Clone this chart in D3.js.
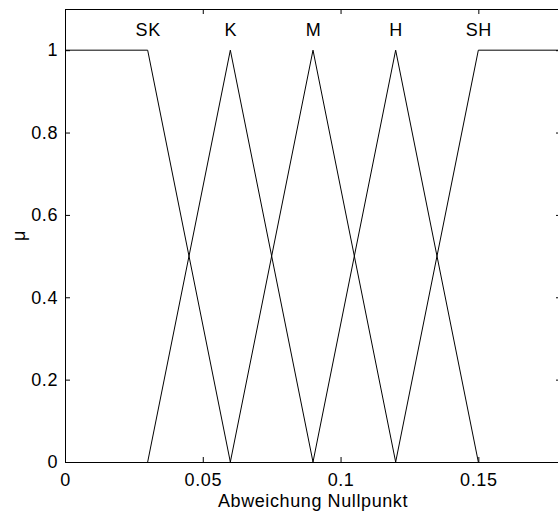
<!DOCTYPE html>
<html>
<head>
<meta charset="utf-8">
<script src="https://cdn.jsdelivr.net/npm/d3@7"></script>
<style>
  body { margin: 0; background: #fff; }
  svg { display: block; font-family: "Liberation Sans", Arial, Helvetica, sans-serif; }
  text { letter-spacing: 0.6px; }
</style>
</head>
<body>
<svg id="chart"></svg>
<script>
// Zugehoerigkeitsfunktionen (Trapez: a, b, c, d)
const sets = ["SK", "K", "M", "H", "SH"];
const setA = [0, 0.03, 0.06, 0.09, 0.12];
const setB = [0, 0.06, 0.09, 0.12, 0.15];
const setC = [0.03, 0.06, 0.09, 0.12, 0.18];
const setD = [0.06, 0.09, 0.12, 0.15, 0.18];
const labelX = [0.03, 0.06, 0.09, 0.12, 0.15];
const xTicks = [0, 0.05, 0.1, 0.15];
const yTicks = [0, 0.2, 0.4, 0.6, 0.8, 1];

const width = 558;
const height = 516;
const margin = { top: 9, right: -3, bottom: 54, left: 65 };
const fontSize = 18;

const x = d3
  .scaleLinear()
  .domain([0, 0.18])
  .range([margin.left, width - margin.right]);
const y = d3
  .scaleLinear()
  .domain([0, 1.1])
  .range([height - margin.bottom, margin.top]);

const svg = d3
  .select("#chart")
  .attr("width", width)
  .attr("height", height)
  .attr("viewBox", [0, 0, width, height]);

// kurven
const line = d3
  .line()
  .x((d) => x(d[0]))
  .y((d) => y(d[1]));

const curves = sets.map((s, i) => {
  const pts = [];
  pts.push([setA[i], setA[i] === setB[i] ? 1 : 0]);
  pts.push([setB[i], 1]);
  pts.push([setC[i], 1]);
  pts.push([setD[i], setC[i] === setD[i] ? 1 : 0]);
  return pts;
});

svg
  .append("g")
  .attr("fill", "none")
  .attr("stroke", "black")
  .attr("stroke-width", 1)
  .selectAll("path")
  .data(curves)
  .join("path")
  .attr("d", line);

svg
  .append("g")
  .selectAll("text")
  .data(sets)
  .join("text")
  .attr("x", (d, i) => x(labelX[i]) + 0.5)
  .attr("y", y(1.05))
  .attr("dy", "0.35em")
  .attr("text-anchor", "middle")
  .attr("font-size", fontSize)
  .text((d) => d);

// achsen (innen liegende ticks, wie matlab)
const tick = 5;
const xAxis = (g) =>
  g
    .attr("transform", `translate(0,${y(0)})`)
    .call(d3.axisBottom(x).tickValues(xTicks).tickFormat(d3.format("")).tickSizeInner(-tick).tickSizeOuter(0).tickPadding(11));
const xAxisTop = (g) =>
  g
    .attr("transform", `translate(0,${y(1.1)})`)
    .call(d3.axisTop(x).tickValues(xTicks).tickFormat("").tickSizeInner(-tick).tickSizeOuter(0));
const yAxis = (g) =>
  g
    .attr("transform", `translate(${x(0)},0)`)
    .call(d3.axisLeft(y).tickValues(yTicks).tickFormat(d3.format("")).tickSizeInner(-tick).tickSizeOuter(0).tickPadding(7));
const yAxisRight = (g) =>
  g
    .attr("transform", `translate(${x(0.18)},0)`)
    .call(d3.axisRight(y).tickValues(yTicks).tickFormat("").tickSizeInner(-tick).tickSizeOuter(0));

[xAxis, xAxisTop, yAxis, yAxisRight].forEach((ax) => {
  svg
    .append("g")
    .call(ax)
    .call((g) => g.attr("font-family", null).attr("font-size", fontSize))
    .call((g) => g.selectAll("line,path").attr("stroke", "black"))
    .call((g) => g.selectAll("text").attr("fill", "black"));
});

svg
  .append("text")
  .attr("x", (x(0) + x(0.18)) / 2)
  .attr("y", 507)
  .attr("text-anchor", "middle")
  .attr("font-size", fontSize)
  .text("Abweichung Nullpunkt");

svg
  .append("text")
  .attr("transform", `translate(25,${(y(0) + y(1.1)) / 2}) rotate(-90)`)
  .attr("text-anchor", "middle")
  .attr("font-size", fontSize)
  .text("μ");
</script>
</body>
</html>
